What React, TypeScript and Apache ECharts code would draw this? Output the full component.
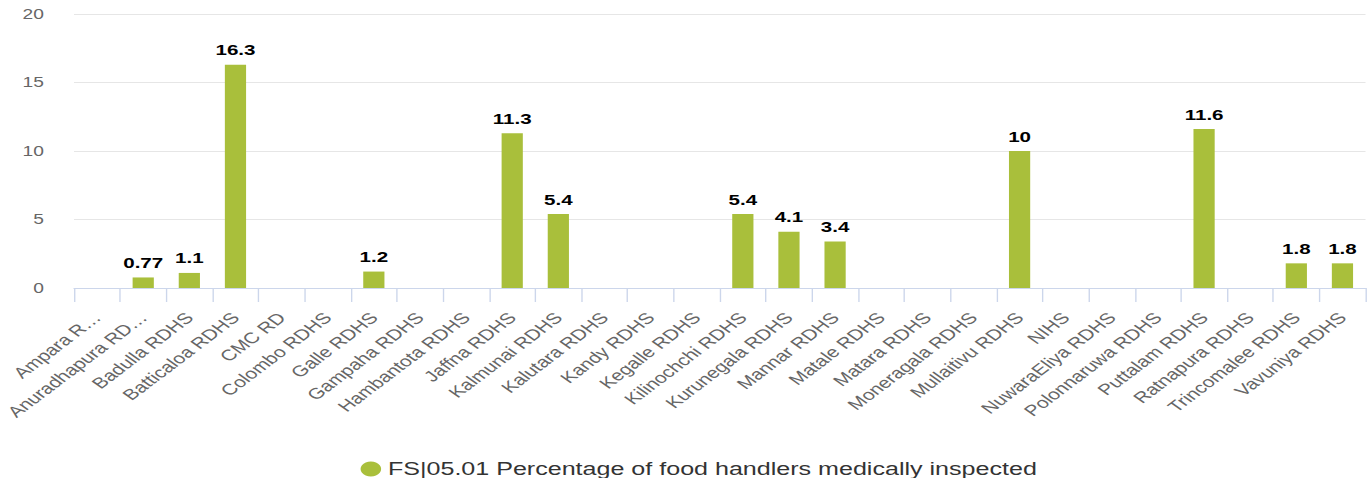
import React, { useEffect, useRef } from "react";
import * as echarts from "echarts";

const categories: string[] = [
  "Ampara R…",
  "Anuradhapura RD…",
  "Badulla RDHS",
  "Batticaloa RDHS",
  "CMC RD",
  "Colombo RDHS",
  "Galle RDHS",
  "Gampaha RDHS",
  "Hambantota RDHS",
  "Jaffna RDHS",
  "Kalmunai RDHS",
  "Kalutara RDHS",
  "Kandy RDHS",
  "Kegalle RDHS",
  "Kilinochchi RDHS",
  "Kurunegala RDHS",
  "Mannar RDHS",
  "Matale RDHS",
  "Matara RDHS",
  "Moneragala RDHS",
  "Mullaitivu RDHS",
  "NIHS",
  "NuwaraEliya RDHS",
  "Polonnaruwa RDHS",
  "Puttalam RDHS",
  "Ratnapura RDHS",
  "Trincomalee RDHS",
  "Vavuniya RDHS",
];

const values: (number | null)[] = [
  null, 0.77, 1.1, 16.3, null, null, 1.2, null, null, 11.3, 5.4, null, null, null,
  5.4, 4.1, 3.4, null, null, null, 10, null, null, null, 11.6, null, 1.8, 1.8,
];

const seriesName = "FS|05.01 Percentage of food handlers medically inspected";
const yMin = 0;
const yMax = 20;
const yStep = 5;

const NATIVE_W = 1000;
const SCALE_X = 1371 / NATIVE_W;
const FONT = '"Liberation Sans", Arial, Helvetica, sans-serif';

export default function App() {
  const ref = useRef<HTMLDivElement>(null);
  useEffect(() => {
    if (!ref.current) return;
    const chart = echarts.init(ref.current, undefined, { renderer: "svg" });
    chart.setOption({
      animation: false,
      textStyle: { fontFamily: FONT },
      grid: { left: 54, right: 4, top: 14, bottom: 190, containLabel: false },
      legend: {
        data: [seriesName],
        left: 258,
        top: 455,
        icon: "circle",
        itemWidth: 15,
        itemHeight: 15,
        itemGap: 10,
        textStyle: { fontSize: 18.3, color: "#333", fontFamily: FONT },
      },
      xAxis: {
        type: "category",
        data: categories,
        boundaryGap: true,
        axisLine: { show: true, lineStyle: { color: "#ccd6eb", width: 1 } },
        axisTick: { show: true, alignWithLabel: false, length: 14, lineStyle: { color: "#ccd6eb" } },
        axisLabel: {
          interval: 0,
          rotate: 46,
          margin: 27,
          fontSize: 15.3,
          color: "#666",
          fontFamily: FONT,
        },
        splitLine: { show: false },
      },
      yAxis: {
        type: "value",
        min: yMin,
        max: yMax,
        interval: yStep,
        axisLine: { show: false },
        axisTick: { show: false },
        axisLabel: { fontSize: 14, color: "#666", margin: 22, fontFamily: FONT },
        splitLine: { lineStyle: { color: "#e6e6e6", width: 1 } },
      },
      series: [
        {
          name: seriesName,
          type: "bar",
          data: values,
          barWidth: "46%",
          itemStyle: { color: "#a9bf3b" },
          label: {
            show: true,
            position: "top",
            distance: 7,
            fontSize: 15,
            fontWeight: "bold",
            color: "#000",
            fontFamily: FONT,
            textBorderColor: "#fff",
            textBorderWidth: 1,
          },
        },
      ],
    });
    return () => chart.dispose();
  }, []);
  return (
    <div
      style={{
        position: "absolute",
        left: 0,
        top: 0,
        width: 1371,
        height: 478,
        overflow: "hidden",
        background: "#fff",
      }}
    >
      <div
        ref={ref}
        style={{
          width: NATIVE_W,
          height: 478,
          transform: `scaleX(${SCALE_X})`,
          transformOrigin: "0 0",
        }}
      />
    </div>
  );
}
